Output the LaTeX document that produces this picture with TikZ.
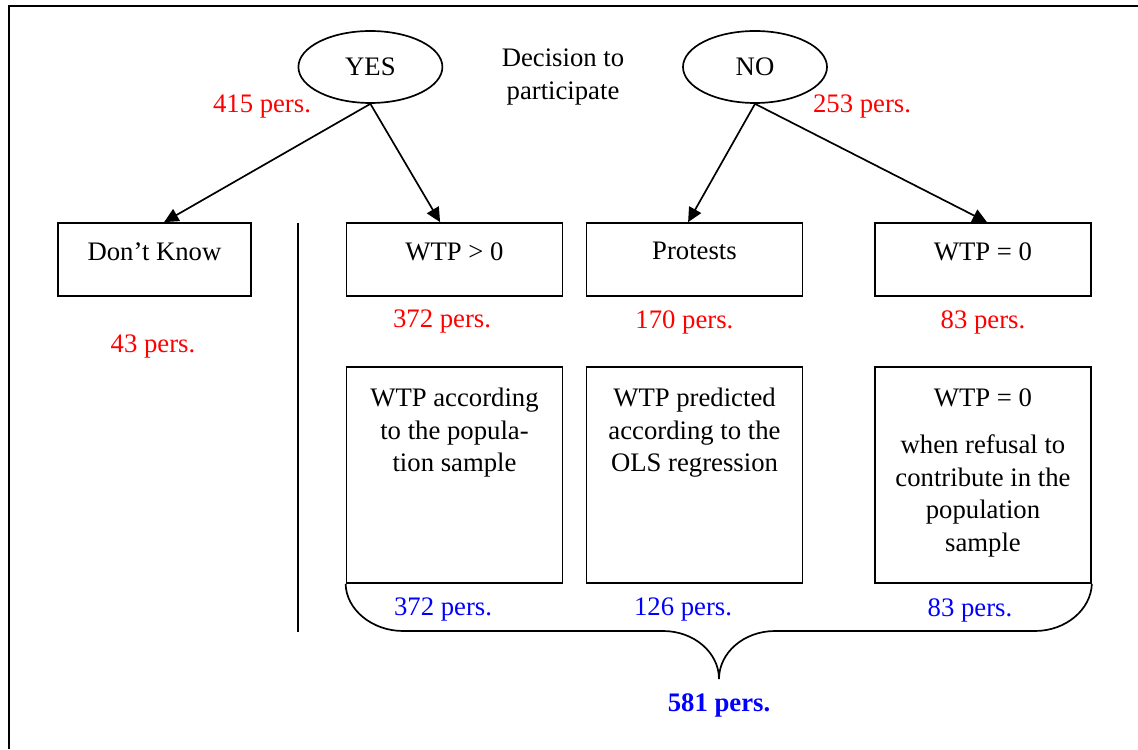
\documentclass[tikz,border=0pt]{standalone}
\usepackage{fontspec}
\setmainfont{Liberation Serif}
\usepackage{tikz}
\usetikzlibrary{arrows.meta, shapes.geometric, positioning, calc}

\begin{document}
\begin{tikzpicture}[font=\fontsize{19}{23.1}\selectfont,
    choice/.style={draw, ellipse, line width=1.2pt, minimum width=3.6cm, minimum height=1.8cm, inner sep=0pt},
    box/.style={draw, line width=1.2pt, minimum width=5.4cm, minimum height=1.825cm},
    tallbox/.style={draw, line width=1.2pt, minimum width=5.4cm, minimum height=5.4cm},
    boxtext/.style={inner sep=0pt, align=center},
    redcount/.style={text=red},
    bluecount/.style={text=blue},
    arr/.style={-{Triangle[length=0.36cm, width=0.34cm]}, line width=1.2pt}]

            % Khung
            \useasboundingbox (0,0) rectangle (28.45,18.725);
            \coordinate (fbl) at (0.225,0);
            \coordinate (ftl) at (0.225,18.575);
            \coordinate (ftr) at (28.45,18.575);
            \draw[line width=1.5pt] (fbl) -- (ftl) -- (ftr);

            % Quyet dinh tham gia
            \node[choice] (yes) at (9.26,17.05) {YES};
            \node[choice] (no) at (18.875,17.05) {NO};
            \node[boxtext, anchor=north] (decision) at (14.075,17.5) {Decision to\\participate};
            \node[redcount] (nyes) at (6.55,16.05) {415 pers.};
            \node[redcount] (nno) at (21.55,16.05) {253 pers.};

            % Cac o hang thu nhat
            \node[box, minimum width=4.825cm] (dk) at (3.8625,12.2375) {};
            \node[box] (wpos) at (11.3625,12.2375) {};
            \node[box] (prot) at (17.3625,12.2375) {};
            \node[box] (wzero) at (24.575,12.2375) {};
            \node[boxtext, below=0.5cm of dk.north] (dktext) {Don’t Know};
            \node[boxtext, below=0.5cm of wpos.north] (wpostext) {WTP > 0};
            \node[boxtext, below=0.5cm of prot.north] (prottext) {Protests};
            \node[boxtext, below=0.5cm of wzero.north] (wzerotext) {WTP = 0};

            % Mui ten
            \draw[arr] (yes.south) -- ([xshift=0.24cm]dk.north);
            \draw[arr] (yes.south) -- ([xshift=-0.36cm]wpos.north);
            \draw[arr] (no.south) -- ([xshift=-0.16cm]prot.north);
            \draw[arr] (no.south) -- ([xshift=0.1cm]wzero.north);

            % So nguoi
            \node[redcount] (ndk) at (3.825,10.05) {43 pers.};
            \node[redcount] (nwpos) at (11.05,10.675) {372 pers.};
            \node[redcount] (nprot) at (17.11,10.675) {170 pers.};
            \node[redcount] (nwzero) at (24.575,10.675) {83 pers.};

            % Duong phan cach
            \coordinate (septop) at (7.45,13.15);
            \coordinate (sepbot) at (7.45,2.925);
            \draw[line width=1.2pt] (septop) -- (sepbot);

            % Cac o hang thu hai
            \node[tallbox] (wposlow) at (11.3625,6.85) {};
            \node[tallbox] (protlow) at (17.3625,6.85) {};
            \node[tallbox] (wzerolow) at (24.575,6.85) {};
            \node[boxtext, below=0.55cm of wposlow.north] (wposlowtext) {WTP according\\to the popula-\\tion sample};
            \node[boxtext, below=0.55cm of protlow.north] (protlowtext) {WTP predicted\\according to the\\OLS regression};
            \node[boxtext, below=0.55cm of wzerolow.north] (wzerolowtext) {WTP = 0\\[0.375cm]when refusal to\\contribute in the\\population\\sample};

            % Ngoac nhon
            \coordinate (tip) at (17.975,1.75);
            \draw[line width=1.2pt] (wposlow.south west) .. controls (8.65,3.49) and (9.3,2.95) .. (10.075,2.95)
                -- (16.575,2.95) .. controls (17.35,2.95) and (17.975,2.41) .. (tip)
                .. controls (17.975,2.41) and (18.6,2.95) .. (19.375,2.95)
                -- (25.875,2.95) .. controls (26.65,2.95) and (27.275,3.49) .. (wzerolow.south east);
            \node[bluecount] (lwpos) at (11.075,3.475) {372 pers.};
            \node[bluecount] (lprot) at (17.075,3.475) {126 pers.};
            \node[bluecount] (lwzero) at (24.25,3.475) {83 pers.};
            \node[bluecount, font=\fontsize{19}{23.1}\selectfont\bfseries] (total) at (17.975,1.1) {581 pers.};

            \end{tikzpicture}
\end{document}
